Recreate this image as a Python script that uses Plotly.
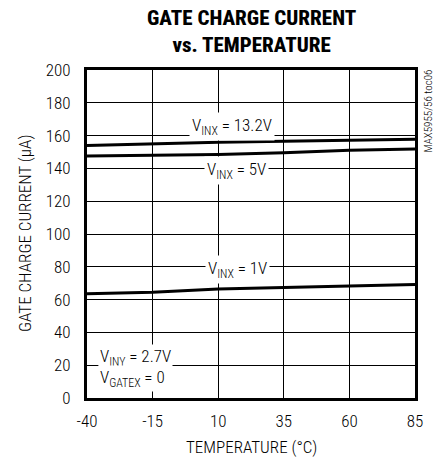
import plotly.graph_objects as go

temps = [-40, -15, 10, 35, 60, 85]
i_13v2 = [154.0, 155.0, 156.0, 156.5, 157.2, 157.8]
i_5v = [147.5, 148.0, 148.5, 149.5, 151.0, 151.8]
i_1v = [63.5, 64.5, 66.5, 67.5, 68.2, 69.2]

x_ticks = [-40, -15, 10, 35, 60, 85]
x_tick_labels = ["-40", "-15", "10", "35", "60", "85"]
y_ticks = list(range(0, 201, 20))

FONT = "Roboto Condensed, Liberation Sans Narrow, Arial Narrow, sans-serif"
W = 300

L, R, T, B = 87, 18, 70, 62
PW = 433 - L - R
PH = 460 - T - B

def f(size, weight=W):
    return dict(family=FONT, size=size, color="black", weight=weight)

fig = go.Figure()
for ys in (i_13v2, i_5v, i_1v):
    fig.add_trace(go.Scatter(x=temps, y=ys, mode="lines",
                             line=dict(color="black", width=3), showlegend=False,
                             hoverinfo="skip"))

annos = [
    dict(x=15.4, y=165.5, text="V<sub>INX</sub> = 13.2V"),
    dict(x=16.8, y=139, text="V<sub>INX</sub> = 5V"),
    dict(x=17.4, y=78.5, text="V<sub>INX</sub> = 1V"),
]
for a in annos:
    fig.add_annotation(x=a["x"], y=a["y"], text=a["text"], showarrow=False,
                       bgcolor="white", borderpad=2, font=f(17))

fig.add_annotation(x=-36, y=25, xanchor="left", yanchor="middle", text="V<sub>INY</sub> = 2.7V",
                   showarrow=False, bgcolor="white", borderpad=1, font=f(17))
fig.add_annotation(x=-36, y=12, xanchor="left", yanchor="middle", text="V<sub>GATEX</sub> = 0",
                   showarrow=False, bgcolor="white", borderpad=1, font=f(17))

fig.add_annotation(xref="paper", yref="paper", x=(428 - L) / PW, y=1 + 2 / PH,
                   xanchor="center", yanchor="top",
                   text="MAX5955/56 toc06", textangle=-90, showarrow=False, font=f(11))

fig.add_annotation(xref="paper", yref="paper", x=0.5, y=1 + 38 / PH, xanchor="center",
                   yanchor="middle", showarrow=False,
                   text="GATE CHARGE CURRENT<br>vs. TEMPERATURE", font=f(21, 800))

# axis titles
fig.add_annotation(xref="paper", yref="paper", x=0.5, y=-(447 - 398) / PH,
                   xanchor="center", yanchor="middle", showarrow=False,
                   text="TEMPERATURE (°C)", font=f(17))
fig.add_annotation(xref="paper", yref="paper", x=-(L - 25) / PW, y=0.5,
                   xanchor="center", yanchor="middle", showarrow=False, textangle=-90,
                   text="GATE CHARGE CURRENT (µA)", font=f(17))

fig.update_layout(
    width=433, height=460,
    margin=dict(l=L, r=R, t=T, b=B, autoexpand=False),
    paper_bgcolor="white", plot_bgcolor="white",
    font=f(17),
)
fig.update_xaxes(range=[-40, 85], tickvals=x_ticks, ticktext=x_tick_labels,
                 showgrid=True, gridcolor="black", gridwidth=1,
                 zeroline=False, showline=True, linecolor="black", linewidth=3, mirror=True,
                 ticks="", ticklabelstandoff=6, automargin=False, tickfont=f(17))
fig.update_yaxes(range=[0, 200], tickvals=y_ticks, showgrid=True, gridcolor="black", gridwidth=1,
                 zeroline=False, showline=True, linecolor="black", linewidth=3, mirror=True,
                 ticks="", ticklabelstandoff=10, automargin=False, tickfont=f(17))

fig.write_html("out.html", config={"displayModeBar": False},
               post_script="document.body.style.margin='0';document.body.style.padding='0';")
